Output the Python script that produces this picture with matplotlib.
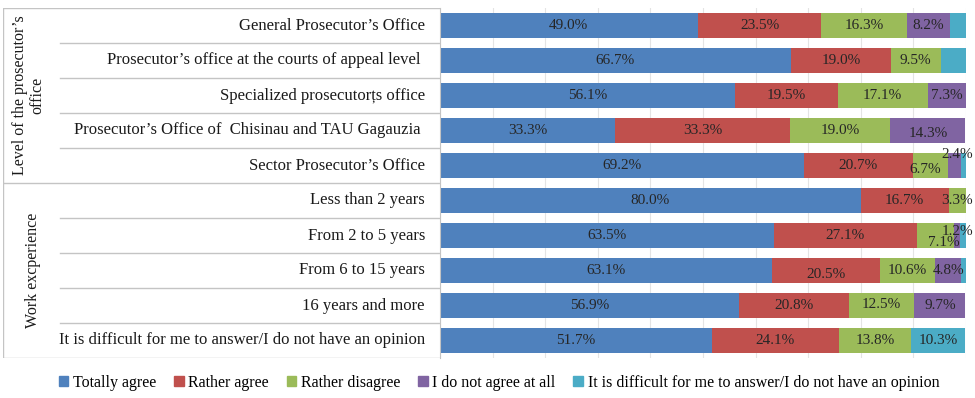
import numpy as np
import matplotlib.pyplot as plt
from matplotlib.patches import Patch

plt.rcParams['font.family'] = ['Liberation Serif', 'DejaVu Serif']

categories = [
    "General Prosecutor\u2019s Office",
    "Prosecutor\u2019s office at the courts of appeal level ",
    "Specialized prosecutor\u021bs office",
    "Prosecutor\u2019s Office of  Chisinau and TAU Gagauzia ",
    "Sector Prosecutor\u2019s Office",
    "Less than 2 years",
    "From 2 to 5 years",
    "From 6 to 15 years",
    "16 years and more",
    "It is difficult for me to answer/I do not have an opinion",
]
groups = ["Level of the prosecutor\u2019s\noffice", "Work excperience"]

series = ["Totally agree", "Rather agree", "Rather disagree",
          "I do not agree at all",
          "It is difficult for me to answer/I do not have an opinion"]
totally_agree = [49.0, 66.7, 56.1, 33.3, 69.2, 80.0, 63.5, 63.1, 56.9, 51.7]
rather_agree = [23.5, 19.0, 19.5, 33.3, 20.7, 16.7, 27.1, 20.5, 20.8, 24.1]
rather_disagree = [16.3, 9.5, 17.1, 19.0, 6.7, 3.3, 7.1, 10.6, 12.5, 13.8]
not_agree = [8.2, 0.0, 7.3, 14.3, 2.4, 0.0, 1.2, 4.8, 9.7, 0.0]
no_opinion = [3.0, 4.8, 0.0, 0.0, 1.0, 0.0, 1.1, 1.0, 0.0, 10.3]

colors = ["#4F81BD", "#C0504D", "#9BBB59", "#8064A2", "#4BACC6"]
data = np.array([totally_agree, rather_agree, rather_disagree, not_agree, no_opinion])

# labels that were nudged off centre (row, series) -> (dx, dy) in points
nudges = {(4, 3): (2, 8), (4, 2): (-4, -3), (6, 3): (0, 3), (6, 2): (6, -5),
          (7, 1): (0, -3), (3, 3): (0, -2), (8, 2): (0, 1)}
# tiny cyan slices carry no label
hidden = {(0, 4), (1, 4), (4, 4), (6, 4), (7, 4)}

W, H = 975, 398
fig = plt.figure(figsize=(W / 100, H / 100), dpi=100)
top, bottom = 8, 358
ax = fig.add_axes([440 / W, 1 - bottom / H, 526 / W, (bottom - top) / H])
tab = fig.add_axes([3 / W, 1 - bottom / H, 437 / W, (bottom - top) / H])

n = len(categories)
y = np.arange(n)
left = np.zeros(n)
for j in range(len(series)):
    ax.barh(y, data[j], left=left, height=0.7, color=colors[j], label=series[j], zorder=2)
    for i in range(n):
        v = data[j][i]
        if v <= 0 or (i, j) in hidden:
            continue
        dx, dy = nudges.get((i, j), (0, 0))
        ax.annotate(f"{v:.1f}%", (left[i] + v / 2, i), xytext=(dx, dy),
                    textcoords="offset points", ha="center", va="center",
                    fontsize=11, color="#262626", zorder=3)
    left += data[j]

ax.set_xlim(0, 100)
ax.set_ylim(n - 0.5, -0.5)
ax.set_xticks(np.arange(0, 101, 10))
ax.grid(axis="x", color="#e4e4e4", linewidth=0.8, zorder=0)
ax.tick_params(left=False, bottom=False, labelleft=False, labelbottom=False)
for s in ["top", "right", "bottom"]:
    ax.spines[s].set_visible(False)
ax.spines["left"].set_color("#c4c4c4")

# category table on the left
tab.set_xlim(0, 437)
tab.set_ylim(n - 0.5, -0.5)
tab.axis("off")
line_kw = dict(color="#c4c4c4", linewidth=1.0)
tab.plot([0, 437], [-0.5, -0.5], **line_kw)
tab.plot([0, 437], [n - 0.5, n - 0.5], **line_kw)
tab.plot([0, 437], [4.5, 4.5], **line_kw)
tab.plot([0, 0], [-0.5, n - 0.5], **line_kw)
for b in [0.5, 1.5, 2.5, 3.5, 5.5, 6.5, 7.5, 8.5]:
    tab.plot([57, 437], [b, b], **line_kw)
for i, c in enumerate(categories):
    tab.text(422, i, c, ha="right", va="center", fontsize=12, color="#1a1a1a")
tab.text(26, 2, groups[0], rotation=90, ha="center", va="center",
         fontsize=11.5, color="#1a1a1a", linespacing=1.1)
tab.text(30, 7, groups[1], rotation=90, ha="center", va="center",
         fontsize=11.5, color="#1a1a1a")

handles = [Patch(color=c) for c in colors]
fig.legend(handles, series, loc="center", bbox_to_anchor=(499 / W, 1 - 383 / H),
           ncol=5, frameon=False, fontsize=11.5, handlelength=0.6, handleheight=0.6,
           handletextpad=0.3, columnspacing=1.1)

fig.savefig("out.png", dpi=100)
